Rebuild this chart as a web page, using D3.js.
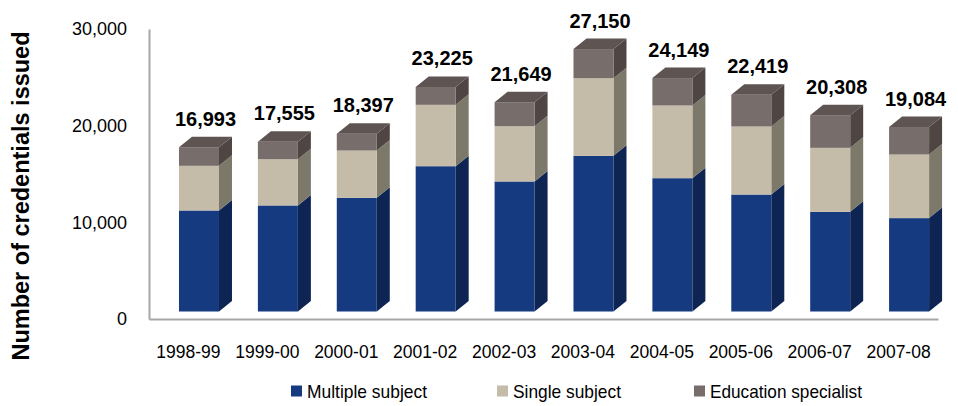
<!DOCTYPE html>
<html>
<head>
<meta charset="utf-8">
<script src="https://cdn.jsdelivr.net/npm/d3@7/dist/d3.min.js"></script>
<style>
  html, body { margin: 0; padding: 0; background: #fff; }
  svg { display: block; font-family: "Liberation Sans", Arial, sans-serif; }
</style>
</head>
<body>
<svg id="chart" width="958" height="406"></svg>
<script>
// Credentials issued per academic year, by credential type
const categories = ["1998-99", "1999-00", "2000-01", "2001-02", "2002-03",
                    "2003-04", "2004-05", "2005-06", "2006-07", "2007-08"];
const multipleSubject  = [10450, 10970, 11760, 15030, 13450, 16100, 13790, 12100, 10310, 9660];
const singleSubject    = [4620, 4790, 4890, 6350, 5720, 8040, 7520, 7040, 6620, 6580];
const educationSpecial = [1923, 1795, 1747, 1845, 2479, 3010, 2839, 3279, 3378, 2844];
const yTicks = [0, 10000, 20000, 30000];

const seriesNames = ["Multiple subject", "Single subject", "Education specialist"];
const keys = ["multiple", "single", "specialist"];

// front / side / top shades for each series
const colors = {
  multiple:   { front: "#153A7F", side: "#0E2452", top: "#0F2A5E" },
  single:     { front: "#C4BBA8", side: "#7C796A", top: "#A49C8A" },
  specialist: { front: "#776D6A", side: "#4F4644", top: "#5E5553" }
};

const rows = categories.map((c, i) => ({
  year: c,
  multiple: multipleSubject[i],
  single: singleSubject[i],
  specialist: educationSpecial[i]
}));

const svg = d3.select("#chart");

const left = 149, right = 938, floorY = 319, topY = 29;
const x = d3.scaleBand().domain(categories).range([left, right]).padding(0);
const y = d3.scaleLinear().domain([0, 30000]).range([floorY, topY]);

// 3D geometry: front plane lifted off the floor, plus depth offset
const frontLift = 7.5;
const depthX = 13, depthY = -10.5;
const faceX = d => x(d) + x.bandwidth() * 0.38;
const faceW = x.bandwidth() * 0.507;
const fy = v => y(v) - frontLift;

const stacked = d3.stack().keys(keys)(rows);

const bars = svg.append("g");
rows.forEach((row, i) => {
  const g = bars.append("g");
  const x0 = faceX(row.year), x1 = x0 + faceW;
  stacked.forEach(layer => {
    const key = layer.key;
    const [v0, v1] = layer[i];
    const yb = fy(v0), yt = fy(v1);
    // side face
    g.append("path")
      .attr("d", `M${x1},${yb} L${x1 + depthX},${yb + depthY} L${x1 + depthX},${yt + depthY} L${x1},${yt} Z`)
      .attr("fill", colors[key].side);
    // front face
    g.append("rect")
      .attr("x", x0).attr("y", yt)
      .attr("width", faceW).attr("height", yb - yt)
      .attr("fill", colors[key].front);
  });
  // top cap on the uppermost segment
  const topLayer = stacked[stacked.length - 1];
  const yt = fy(topLayer[i][1]);
  g.append("path")
    .attr("d", `M${x0},${yt} L${x1},${yt} L${x1 + depthX},${yt + depthY} L${x0 + depthX},${yt + depthY} Z`)
    .attr("fill", colors[topLayer.key].top);
  // total label
  const total = d3.sum(keys, k => row[k]);
  g.append("text")
    .attr("x", x0 + (faceW + depthX) / 2)
    .attr("y", fy(total) + depthY - 11)
    .attr("text-anchor", "middle")
    .attr("font-size", 20)
    .attr("font-weight", "bold")
    .attr("fill", "#000")
    .text(d3.format(",")(total));
});

// value axis
const yAxis = svg.append("g")
  .attr("transform", `translate(${left},0)`)
  .call(d3.axisLeft(y).tickValues(yTicks).tickFormat(d3.format(",")).tickSize(0).tickPadding(22));
yAxis.select(".domain").attr("stroke", "#A6A6A6").attr("stroke-width", 2);
yAxis.selectAll("text").attr("font-size", 18).attr("fill", "#000")
  .attr("font-family", "Liberation Sans, Arial, sans-serif");

// category axis along the floor edge
const xAxis = svg.append("g")
  .attr("transform", `translate(0,${floorY})`)
  .call(d3.axisBottom(x).tickSize(0).tickPadding(27));
xAxis.select(".domain").attr("stroke", "#A6A6A6").attr("stroke-width", 2);
xAxis.selectAll("text").attr("font-size", 17.5).attr("fill", "#000")
  .attr("font-family", "Liberation Sans, Arial, sans-serif");

// axis title
svg.append("text")
  .attr("transform", "translate(28.5,196) rotate(-90)")
  .attr("text-anchor", "middle")
  .attr("font-size", 23.5)
  .attr("font-weight", "bold")
  .attr("fill", "#000")
  .text("Number of credentials issued");

// legend
const legendX = [291, 497, 694];
const legendLen = [120, 108, 152];
const legend = svg.append("g");
keys.forEach((k, i) => {
  legend.append("rect")
    .attr("x", legendX[i]).attr("y", 385.5)
    .attr("width", 11).attr("height", 11)
    .attr("fill", colors[k].front);
  legend.append("text")
    .attr("x", legendX[i] + 16).attr("y", 398)
    .attr("font-size", 19)
    .attr("textLength", legendLen[i])
    .attr("lengthAdjust", "spacingAndGlyphs")
    .attr("fill", "#000")
    .text(seriesNames[i]);
});
</script>
</body>
</html>
